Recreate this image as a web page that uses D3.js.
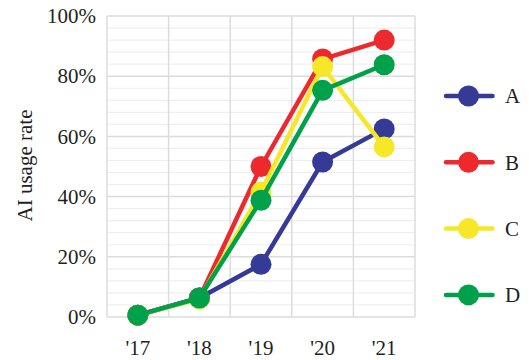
<!DOCTYPE html>
<html>
<head>
<meta charset="utf-8">
<script src="https://cdn.jsdelivr.net/npm/d3@7"></script>
<style>
  html, body { margin: 0; padding: 0; background: #fff; }
  svg { display: block; }
  text { font-family: "Liberation Serif", "Times New Roman", serif; fill: #231f20; }
</style>
</head>
<body>
<svg id="chart" width="529" height="360"></svg>
<script>
// Years on the x axis
const years = ["'17", "'18", "'19", "'20", "'21"];
// Series names and colours
const seriesNames = ["A", "B", "C", "D"];
const seriesColors = ["#343a96", "#ec2a2e", "#f6e829", "#00a14b"];
// Usage rate (%) per year for each series
const valuesA = [0.6, 6.3, 17.5, 51.5, 62.5];
const valuesB = [0.6, 6.3, 50.0, 85.7, 92.0];
const valuesC = [0.6, 6.0, 41.5, 83.2, 56.5];
const valuesD = [0.6, 6.3, 38.8, 75.3, 83.8];
// Tick labels on the y axis
const yTicks = [0, 20, 40, 60, 80, 100];

const seriesValues = [valuesA, valuesB, valuesC, valuesD];

const svg = d3.select("#chart");
const plot = { left: 107, right: 415, top: 16, bottom: 317 };
const fontSize = 21;

const x = d3.scaleBand().domain(years).range([plot.left, plot.right]);
const y = d3.scaleLinear().domain([0, 100]).range([plot.bottom, plot.top]);

// Minor gridlines every 4%
svg.append("g")
  .selectAll("line")
  .data(d3.range(4, 100, 4).filter(v => v % 20 !== 0))
  .join("line")
  .attr("x1", plot.left).attr("x2", plot.right)
  .attr("y1", d => y(d)).attr("y2", d => y(d))
  .attr("stroke", "#efefef").attr("stroke-width", 1.2);

// Major horizontal gridlines
svg.append("g")
  .selectAll("line")
  .data(yTicks)
  .join("line")
  .attr("x1", plot.left).attr("x2", plot.right)
  .attr("y1", d => y(d)).attr("y2", d => y(d))
  .attr("stroke", "#dcdcdc").attr("stroke-width", 1.5);

// Vertical gridlines at band boundaries
svg.append("g")
  .selectAll("line")
  .data(years.map(d => x(d)).concat([plot.right]))
  .join("line")
  .attr("x1", d => d).attr("x2", d => d)
  .attr("y1", plot.top).attr("y2", plot.bottom)
  .attr("stroke", "#dcdcdc").attr("stroke-width", 1.5);

// Y axis labels
const yAxis = d3.axisLeft(y).tickValues(yTicks).tickFormat(d => d + "%").tickSize(0).tickPadding(11);
svg.append("g")
  .attr("transform", `translate(${plot.left},0)`)
  .call(yAxis)
  .call(g => g.select(".domain").remove())
  .selectAll("text")
  .attr("font-family", "Liberation Serif, serif")
  .attr("font-size", fontSize)
  .attr("fill", "#231f20");

// X axis labels
const xAxis = d3.axisBottom(x).tickSize(0).tickPadding(23);
svg.append("g")
  .attr("transform", `translate(0,${plot.bottom})`)
  .call(xAxis)
  .call(g => g.select(".domain").remove())
  .selectAll("text")
  .attr("font-family", "Liberation Serif, serif")
  .attr("font-size", fontSize)
  .attr("fill", "#231f20");

// Y axis title
svg.append("text")
  .attr("transform", `translate(32,${(plot.top + plot.bottom) / 2 - 1}) rotate(-90)`)
  .attr("text-anchor", "middle")
  .attr("font-size", fontSize)
  .text("AI usage rate");

// Lines and markers
const cx = d => x(d) + x.bandwidth() / 2;
const line = d3.line().x((d, i) => cx(years[i])).y(d => y(d));

seriesValues.forEach((vals, s) => {
  const g = svg.append("g");
  g.append("path")
    .attr("d", line(vals))
    .attr("fill", "none")
    .attr("stroke", seriesColors[s])
    .attr("stroke-width", 4.5)
    .attr("stroke-linejoin", "round");
  g.selectAll("circle")
    .data(vals)
    .join("circle")
    .attr("cx", (d, i) => cx(years[i]))
    .attr("cy", d => y(d))
    .attr("r", 10.5)
    .attr("fill", seriesColors[s]);
});

// Legend
const legend = svg.append("g");
seriesNames.forEach((name, s) => {
  const ly = 96 + s * 66.3;
  legend.append("line")
    .attr("x1", 446).attr("x2", 492.5)
    .attr("y1", ly).attr("y2", ly)
    .attr("stroke", seriesColors[s]).attr("stroke-width", 4.5)
    .attr("stroke-linecap", "round");
  legend.append("circle")
    .attr("cx", 468.5).attr("cy", ly).attr("r", 10.5)
    .attr("fill", seriesColors[s]);
  legend.append("text")
    .attr("x", 505).attr("y", ly)
    .attr("dy", "0.35em")
    .attr("font-size", fontSize)
    .text(name);
});
</script>
</body>
</html>
